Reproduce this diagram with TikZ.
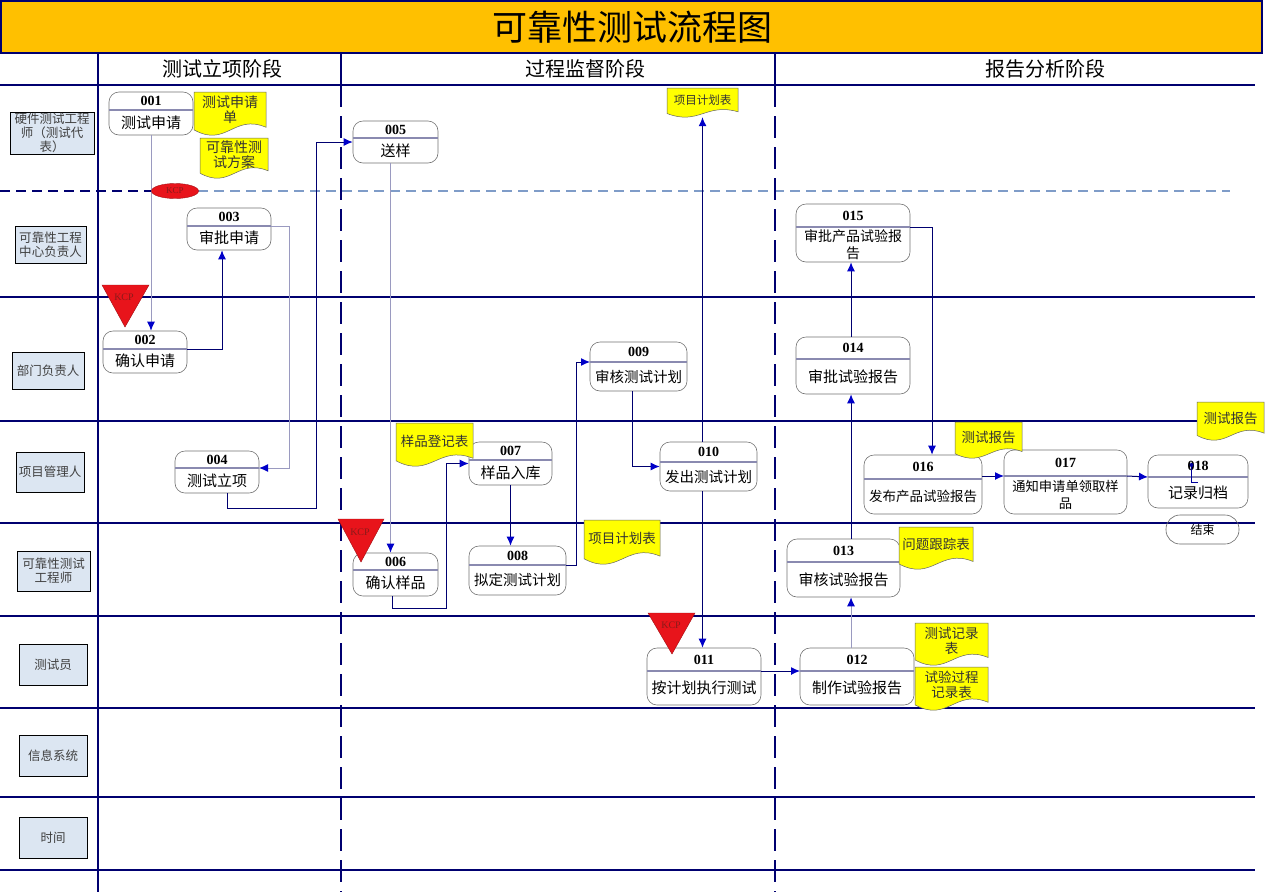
\documentclass[tikz,border=0pt]{standalone}
\usepackage{fontspec}
\setmainfont{Liberation Serif}
\newfontfamily\cjk{Noto Sans CJK SC}
\usetikzlibrary{arrows.meta,calc,fit,shapes.geometric}
\definecolor{navy}{HTML}{000070}
\definecolor{titlebg}{HTML}{FFC000}
\definecolor{lblbg}{HTML}{DCE6F2}
\definecolor{docyel}{HTML}{FFFF00}
\definecolor{lightln}{HTML}{9A9AC0}
\definecolor{arrblue}{HTML}{0000C8}
\definecolor{kcpred}{HTML}{E8141B}
\definecolor{kcptxt}{HTML}{8B1A1A}
\definecolor{divln}{HTML}{8A8AB0}
\definecolor{dashlt}{HTML}{7F9CC8}

\newcommand\proc[9]{%
  \node[procbox, fit={(#2,#3)(#4,#5)}] (#1) {};
  \coordinate (#1-dl) at (#2,#6);
  \coordinate (#1-dr) at (#4,#6);
  \draw[divider] (#1-dl) -- (#1-dr);
  \node[numtxt] at ($(#2,#3)!0.5!(#4,#6)$) {#7};
  \node[ptext,font=\cjk\fontsize{#9}{17}\selectfont] at ($(#2,#6)!0.5!(#4,#5)$) {#8};
}
\newcommand\docshape[7]{%
  \pgfmathsetmacro\dYl{#5-0.12*(#5-#3)}%
  \pgfmathsetmacro\dYr{#5-0.18*(#5-#3)}%
  \pgfmathsetmacro\dCa{#5+0.30*(#5-#3)}%
  \pgfmathsetmacro\dCb{#5-0.50*(#5-#3)}%
  \pgfmathsetmacro\dXa{#2+0.45*(#4-#2)}%
  \pgfmathsetmacro\dXb{#2+0.55*(#4-#2)}%
  \pgfmathsetmacro\dTy{#3+0.42*(#5-#3)}%
  \pgfmathsetmacro\dTx{(#2+#4)/2}%
  \node[fit={(#2,#3)(#4,#5)}, inner sep=0pt] (#1) {};
  \draw[docst] (#2,#3) -- (#4,#3) -- (#4,\dYr) .. controls (\dXb,\dCb) and (\dXa,\dCa) .. (#2,\dYl) -- cycle;
  \node[doctext,font=\cjk\fontsize{#7}{15}\selectfont] at (\dTx,\dTy) {#6};
}
\newcommand\lane[6]{%
  \node[lblbox, fit={(#2,#3)(#4,#5)}] (#1) {};
  \node[lbltext] at (#1.center) {#6};
}

\begin{document}
\begin{tikzpicture}[x=1pt,y=-1pt,
  grid/.style={draw=navy, line width=1.2pt},
  vdash/.style={draw=navy, line width=2.8pt, dash pattern=on 22pt off 9pt},
  lblbox/.style={draw=black, fill=lblbg, line width=0.8pt, inner sep=0pt},
  lbltext/.style={text=black!75, align=center, inner sep=0pt, font=\cjk\fontsize{12.5}{14}\selectfont},
  procbox/.style={draw=black!55, rounded corners=10pt, line width=0.6pt, fill=white, inner sep=0pt},
  divider/.style={draw=divln, line width=1.2pt},
  numtxt/.style={font=\bfseries\fontsize{14}{16}\selectfont},
  ptext/.style={align=center, inner sep=0pt},
  doctext/.style={align=center, text=black!80, inner sep=0pt},
  docst/.style={fill=docyel, draw=black!60, line width=0.5pt},
  conn/.style={draw=navy, line width=1pt, -{Latex[length=9pt,width=8pt,color=arrblue]}},
  connl/.style={conn, draw=lightln},
  kcp/.style={fill=kcpred, draw=kcpred!70!black, line width=0.4pt},
  kcpt/.style={font=\fontsize{10}{11}\selectfont, text=kcptxt, inner sep=0pt},
  phase/.style={font=\cjk\fontsize{20}{22}\selectfont}
]
\useasboundingbox (0,0) rectangle (1265,892);
\fill[white] (0,0) rectangle (1265,892);

% title
\node[draw=navy, line width=1.5pt, fill=titlebg, fit={(0.8,0.8)(1262,53)}, inner sep=0pt] (titlebar) {};
\node[font=\cjk\fontsize{35}{40}\selectfont] (title) at (632,27) {可靠性测试流程图};

% phases
\node[phase] (ph1) at (222,69) {测试立项阶段};
\node[phase] (ph2) at (585,69) {过程监督阶段};
\node[phase] (ph3) at (1045,69) {报告分析阶段};

% grid
\foreach \yy in {85,297,421,523,616,708,797,870}
  \draw[grid] (0,\yy) -- (1255,\yy);
\draw[navy, line width=1.2pt, dash pattern=on 10pt off 6pt] (0,191) -- (152,191);
\draw[dashlt, line width=1.2pt, dash pattern=on 10pt off 6pt] (198,191) -- (1230,191);
\draw[grid] (98,53) -- (98,892);
\draw[grid] (341,53) -- (341,85);
\draw[grid] (775,53) -- (775,85);
\draw[vdash] (341,85) -- (341,892);
\draw[vdash] (775,85) -- (775,892);

% lane labels
\lane{L1}{10}{112}{94}{154}{硬件测试工程\\师（测试代\\表）}
\lane{L2}{15}{226}{86}{263}{可靠性工程\\中心负责人}
\lane{L3}{12}{352}{84}{389}{部门负责人}
\lane{L4}{16}{452}{84}{492}{项目管理人}
\lane{L5}{17}{551}{90}{591}{可靠性测试\\工程师}
\lane{L6}{19}{644}{87}{685}{测试员}
\lane{L7}{19}{735}{87}{776}{信息系统}
\lane{L8}{19}{817}{87}{858}{时间}

% process boxes
\proc{p001}{109}{92}{193}{135}{110}{001}{测试申请}{15}
\proc{p002}{103}{331}{187}{373}{349}{002}{确认申请}{15}
\proc{p003}{187}{208}{271}{250}{226}{003}{审批申请}{15}
\proc{p004}{175}{451}{259}{493}{468}{004}{测试立项}{15}
\proc{p005}{353}{121}{438}{163}{138}{005}{送样}{15}
\proc{p006}{353}{553}{438}{596}{570}{006}{确认样品}{15}
\proc{p007}{469}{442}{552}{485}{460}{007}{样品入库}{15}
\proc{p008}{469}{546}{566}{595}{565}{008}{拟定测试计划}{14.5}
\proc{p009}{590}{342}{687}{391}{362}{009}{审核测试计划}{14.5}
\proc{p010}{660}{442}{757}{491}{462}{010}{发出测试计划}{14.5}
\proc{p011}{647}{648}{761}{705}{671}{011}{按计划执行测试}{15}
\proc{p012}{800}{648}{914}{705}{671}{012}{制作试验报告}{15}
\proc{p013}{787}{539}{900}{597}{562}{013}{审核试验报告}{15}
\proc{p014}{796}{337}{910}{394}{359}{014}{审批试验报告}{15}
\proc{p015}{796}{204}{910}{262}{227}{015}{审批产品试验报\\告}{14}
\proc{p016}{864}{455}{982}{514}{479}{016}{发布产品试验报告}{13.5}
\proc{p017}{1004}{450}{1127}{514}{476}{017}{通知申请单领取样\\品}{13.3}
\proc{p018}{1148}{455}{1248}{508}{477}{018}{记录归档}{15}
\node[draw=black!60, line width=0.6pt, rounded corners=14pt, minimum width=73pt, minimum height=29pt, inner sep=0pt] (end) at (1202.5,529.5) {};
\node[font=\cjk\fontsize{12}{14}\selectfont, inner sep=0pt] at (end.center) {结束};

% documents
\docshape{dsq}{194}{92}{266}{135}{测试申请\\单}{14}
\docshape{dfa}{200}{138}{268}{178}{可靠性测\\试方案}{14}
\docshape{dpj1}{667}{88}{738}{117}{项目计划表}{11.5}
\docshape{dyp}{396}{423}{473}{466}{样品登记表}{13.5}
\docshape{dpj2}{584}{520}{660}{564}{项目计划表}{13.5}
\docshape{dbg1}{955}{422}{1022}{458}{测试报告}{13.5}
\docshape{dbg2}{1197}{402}{1264}{440}{测试报告}{13.5}
\docshape{dwt}{899}{527}{973}{569}{问题跟踪表}{13.5}
\docshape{djl}{915}{623}{988}{665}{测试记录\\表}{13.5}
\docshape{dgc}{915}{667}{988}{710}{试验过程\\记录表}{13.5}

% helper coordinate for the 012-015 column
\coordinate (cx) at (851,0);

% connectors
\draw[connl] (p001.south) -- (p001.south |- p002.north);
\draw[conn] (p002-dr) -| ([xshift=-7pt]p003.south);
\draw[connl] (p003-dr) -- ++(18,0) |- (p004-dr);
\draw[conn] ([xshift=10pt]p004.south) -- ++(0,15) -| ([xshift=-36pt]p005.west) -- (p005.west);
\draw[connl] ([xshift=-5pt]p005.south) -- ([xshift=-5pt]p006.north);
\draw[conn] ([xshift=-3pt]p006.south) -- ++(0,12) -| ([xshift=-22pt]p007.west) -- (p007.west);
\draw[conn] (p007.south) -- (p007.south |- p008.north);
\draw[conn] (p008-dr) -- ++(10,0) |- (p009-dl);
\draw[conn] ([xshift=-6pt]p009.south) |- (p010.west);
\draw[conn] (p010.north -| dpj1.south) -- (dpj1.south);
\draw[conn] (p010.south -| dpj1.south) -- (p011.north -| dpj1.south);
\draw[conn] (p011-dr) -- (p012-dl);
\draw[connl] (p012.north -| cx) -- (p013.south -| cx);
\draw[conn] (p013.north -| cx) -- (p014.south -| cx);
\draw[conn] (p014.north -| cx) -- (p015.south -| cx);
\draw[conn] (p015-dr) -| ([xshift=9pt]p016.north);
\draw[conn] (p016.east |- p017-dl) -- (p017-dl);
\draw[conn] (p017-dr) -- (p018-dl);
\coordinate (m1) at ([xshift=-6.5pt]p018.north);
\draw[draw=navy!70!blue, line width=0.8pt] (m1 |- p018-dl) ++(0,-13) -- ++(0,18) -- ++(6.5,0);
\fill[navy!70!blue] (m1 |- p018-dl) ++(0,-12) circle (2pt);

% KCP marks
\node[ellipse, fill=kcpred, draw=kcpred!70!black, line width=0.4pt, minimum width=47pt, minimum height=15pt, inner sep=0pt, font=\fontsize{9}{10}\selectfont, text=kcptxt] (k0) at (175,191) {KCP};
\draw[kcp] (102,285) -- (149,285) -- (125,327) -- cycle;
\node[kcpt] (k1) at (124,297) {KCP};
\draw[kcp] (338,519) -- (384,519) -- (361,562) -- cycle;
\node[kcpt] (k2) at (360,532) {KCP};
\draw[kcp] (648,613) -- (695,613) -- (672,654) -- cycle;
\node[kcpt] (k3) at (671,625) {KCP};
\end{tikzpicture}
\end{document}
